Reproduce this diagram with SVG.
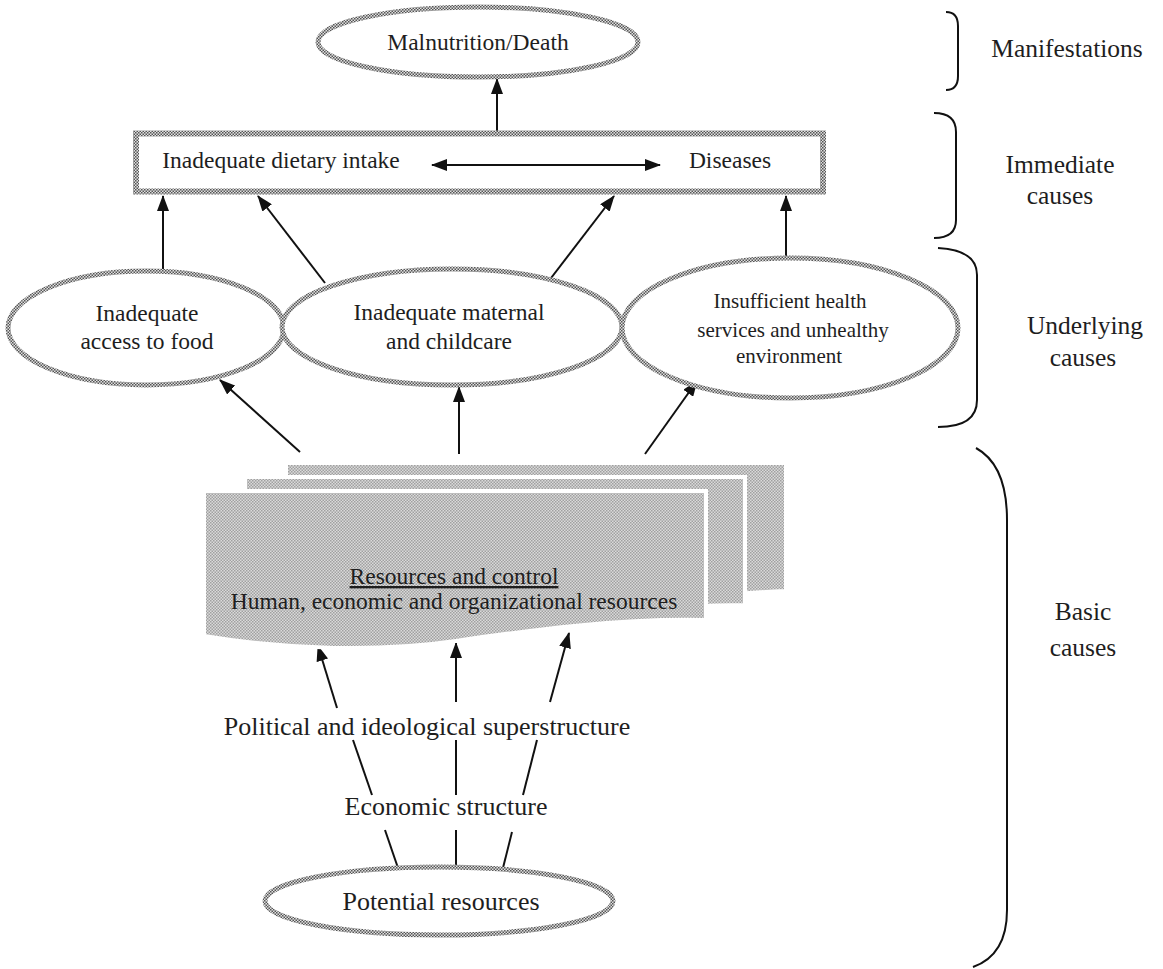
<svg xmlns="http://www.w3.org/2000/svg" width="1163" height="969" viewBox="0 0 1163 969">
<defs>
<pattern id="stip" patternUnits="userSpaceOnUse" width="3" height="3">
<rect width="3" height="3" fill="#e0e0e0"/>
<rect width="1.5" height="1.5" fill="#555"/>
<rect x="1.5" y="1.5" width="1.5" height="1.5" fill="#555"/>
</pattern>
<pattern id="grayfill" patternUnits="userSpaceOnUse" width="3" height="3">
<rect width="3" height="3" fill="#dadada"/>
<rect width="1.5" height="1.5" fill="#a0a0a0"/>
<rect x="1.5" y="1.5" width="1.5" height="1.5" fill="#a0a0a0"/>
</pattern>
<marker id="ah" markerUnits="userSpaceOnUse" markerWidth="16" markerHeight="12" refX="15" refY="6" orient="auto-start-reverse">
<path d="M0,0 L16,6 L0,12 z" fill="#111"/>
</marker>
</defs>
<style>
text{fill:#1e1e1e;text-anchor:middle}
.node{fill:#fff;stroke:url(#stip)}
.ell{stroke-width:5}
.ln{stroke:#111;stroke-width:2;fill:none}
.arr{stroke:#111;stroke-width:2;fill:none;marker-end:url(#ah)}
.brace{stroke:#111;stroke-width:2;fill:none}
.page{fill:url(#grayfill);stroke:#fff;stroke-width:4}
.t23{font-size:23.5px}
.t21{font-size:21px}
.t26{font-size:26px}
.t25{font-size:25.5px}
</style>
<rect width="1163" height="969" fill="#fff"/>

<g id="connectors">
<line class="arr" x1="497" y1="131" x2="497" y2="79"/>
<line class="arr" x1="163" y1="271" x2="163" y2="196"/>
<line class="arr" x1="325" y1="283" x2="258" y2="196"/>
<line class="arr" x1="548" y1="282" x2="614" y2="196"/>
<line class="arr" x1="786" y1="258" x2="786" y2="196"/>
<line class="arr" x1="300" y1="452" x2="220" y2="380"/>
<line class="arr" x1="459" y1="454" x2="459" y2="387"/>
<line class="arr" x1="645" y1="454" x2="697" y2="381"/>
<line class="arr" x1="337" y1="708" x2="318" y2="646"/>
<line class="arr" x1="456" y1="702" x2="456" y2="643"/>
<line class="arr" x1="550" y1="702" x2="569" y2="633"/>
<line class="ln" x1="372" y1="795" x2="353" y2="740"/>
<line class="ln" x1="456" y1="795" x2="456" y2="740"/>
<line class="ln" x1="523" y1="795" x2="537" y2="740"/>
<line class="ln" x1="398" y1="868" x2="385" y2="830"/>
<line class="ln" x1="456" y1="868" x2="456" y2="830"/>
<line class="ln" x1="503" y1="868" x2="512" y2="832"/>
</g>

<g font-family="'Liberation Serif', 'DejaVu Serif', serif">
<g id="malnutrition">
<ellipse class="node ell" cx="478" cy="42" rx="160" ry="35"/>
<text class="t23" x="478" y="50">Malnutrition/Death</text>
</g>

<g id="immediate">
<rect class="node" x="136" y="133.5" width="687" height="58" stroke-width="6"/>
<text class="t23" x="281" y="168">Inadequate dietary intake</text>
<text class="t23" x="730" y="168">Diseases</text>
<line class="arr" x1="432" y1="165" x2="660" y2="165" marker-start="url(#ah)"/>
</g>

<g id="access-food">
<ellipse class="node ell" cx="146" cy="328" rx="138" ry="57"/>
<text class="t23" x="147" y="321">Inadequate</text>
<text class="t23" x="147" y="349">access to food</text>
</g>

<g id="maternal-care">
<ellipse class="node ell" cx="452" cy="327" rx="170" ry="58"/>
<text class="t23" x="449" y="320">Inadequate maternal</text>
<text class="t23" x="449" y="349">and childcare</text>
</g>

<g id="health-services">
<ellipse class="node ell" cx="790" cy="328" rx="168" ry="70"/>
<text class="t21" x="790" y="308">Insufficient health</text>
<text class="t21" x="793" y="337">services and unhealthy</text>
<text class="t21" x="789" y="363">environment</text>
</g>

<g id="resources-control">
<path class="page" d="M286,463 H786 V591 C700,595 610,604 536,614 C460,625 380,630 286,608 Z"/>
<path class="page" d="M245,477 H745 V605 C660,605 570,617 495,627 C420,638 340,640 245,622 Z"/>
<path class="page" d="M204,491 H706 V620 C620,618 530,630 456,641 C380,652 290,650 204,636 Z"/>
<text class="t23" x="454" y="584" fill="#333" text-decoration="underline">Resources and control</text>
<text class="t23" x="454" y="609" fill="#333">Human, economic and organizational resources</text>
</g>

<g id="political">
<text class="t26" x="427" y="735">Political and ideological superstructure</text>
</g>
<g id="economic">
<text class="t26" x="446" y="815">Economic structure</text>
</g>
<g id="potential">
<ellipse class="node ell" cx="439" cy="901" rx="174" ry="34"/>
<text class="t26" x="441" y="910">Potential resources</text>
</g>

<g id="braces">
<path class="brace" d="M946,12 Q958,12 958,26 L958,76 Q958,90 946,90"/>
<path class="brace" d="M934,113 Q956,113 956,132 L956,220 Q956,238 934,238"/>
<path class="brace" d="M938,248 Q977,250 977,275 L977,400 Q977,427 938,427"/>
<path class="brace" d="M976,448 Q1007,465 1007,520 L1007,910 Q1007,955 973,967"/>
</g>

<g id="labels">
<text class="t25" x="1067" y="57">Manifestations</text>
<text class="t25" x="1060" y="173">Immediate</text>
<text class="t25" x="1060" y="204">causes</text>
<text class="t25" x="1085" y="334">Underlying</text>
<text class="t25" x="1083" y="366">causes</text>
<text class="t25" x="1083" y="620">Basic</text>
<text class="t25" x="1083" y="656">causes</text>
</g>
</g>
</svg>
